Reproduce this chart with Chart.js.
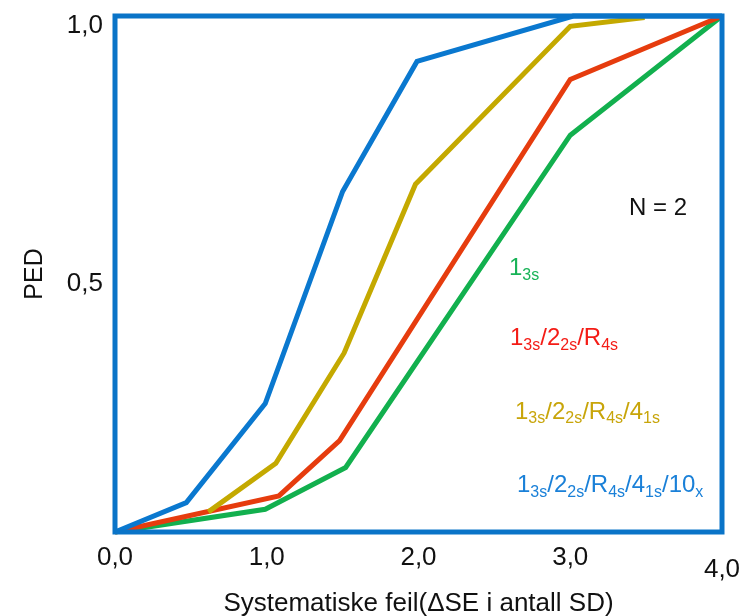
<!DOCTYPE html>
<html><head><meta charset="utf-8">
<script src="https://cdn.jsdelivr.net/npm/chart.js@4/dist/chart.umd.min.js"></script>
<style>html,body{margin:0;padding:0;background:#fff}#wrap{width:745px;height:616px}</style>
</head><body><div id="wrap"><canvas id="c" width="745" height="616"></canvas></div>
<script>
// ---- data ----
const xTickValues = [0, 1, 2, 3, 4];
const yTickValues = [0.5, 1.0];

const blueX   = [0, 0.47, 0.99, 1.50, 1.99, 3.02, 4.0];
const blueY   = [0, 0.057, 0.249, 0.660, 0.912, 1.0, 1.0];
const yellowX = [0.615, 1.06, 1.51, 1.98, 3.0, 3.49];
const yellowY = [0.039, 0.133, 0.347, 0.674, 0.980, 0.997];
const redX    = [0, 1.08, 1.48, 3.0, 4.0];
const redY    = [0, 0.070, 0.177, 0.877, 1.0];
const greenX  = [0, 0.99, 1.52, 3.0, 4.0];
const greenY  = [0, 0.044, 0.125, 0.769, 1.0];

const seriesNames = ['1₃ₛ/2₂ₛ/R₄ₛ/4₁ₛ/10ₓ', '1₃ₛ/2₂ₛ/R₄ₛ/4₁ₛ', '1₃ₛ/2₂ₛ/R₄ₛ', '1₃ₛ'];
const xTitle = 'Systematiske feil(ΔSE i antall SD)';
const yTitle = 'PED';

// annotation texts: [text, isSubscript]
const labelN      = [['N = 2', 0]];
const labelGreen  = [['1',0],['3s',1]];
const labelRed    = [['1',0],['3s',1],['/2',0],['2s',1],['/R',0],['4s',1]];
const labelYellow = [['1',0],['3s',1],['/2',0],['2s',1],['/R',0],['4s',1],['/4',0],['1s',1]];
const labelBlue   = [['1',0],['3s',1],['/2',0],['2s',1],['/R',0],['4s',1],['/4',0],['1s',1],['/10',0],['x',1]];

// ---- styling / layout ----
const FONT = "'Liberation Sans', Arial, sans-serif";
const C_BLUE = '#0a78cf', C_YEL = '#c4a900', C_RED = '#e63c0e', C_GRN = '#12b04e';
const annotations = [
  {parts: labelN,      color: '#111111', at: [3.387, 0.614]},
  {parts: labelGreen,  color: '#18b357', at: [2.596, 0.498]},
  {parts: labelRed,    color: '#f41c16', at: [2.603, 0.362]},
  {parts: labelYellow, color: '#c8a50a', at: [2.636, 0.219]},
  {parts: labelBlue,   color: '#1a80d8', at: [2.649, 0.0774]}
];

function pts(xs, ys) { return xs.map((x, i) => ({x: x, y: ys[i]})); }
function fmt(v) { return v.toFixed(1).replace('.', ','); }

const boxBorder = {
  id: 'boxBorder',
  afterDatasetsDraw(chart) {
    const {ctx, chartArea: a} = chart;
    ctx.save();
    ctx.strokeStyle = '#0a74c8';
    ctx.lineWidth = 5;
    ctx.strokeRect(a.left, a.top, a.right - a.left, a.bottom - a.top);
    ctx.restore();
  }
};

const richLabels = {
  id: 'richLabels',
  afterDraw(chart) {
    const ctx = chart.ctx;
    const xs = chart.scales.x, ys = chart.scales.y;
    ctx.save();
    ctx.textBaseline = 'alphabetic';
    ctx.textAlign = 'left';
    annotations.forEach(a => {
      let x = xs.getPixelForValue(a.at[0]);
      const y = ys.getPixelForValue(a.at[1]);
      ctx.fillStyle = a.color;
      a.parts.forEach(([t, sub]) => {
        ctx.font = (sub ? '16px ' : '24px ') + FONT;
        ctx.fillText(t, x, sub ? y + 4.5 : y);
        x += ctx.measureText(t).width;
      });
    });
    ctx.restore();
  }
};

const ds = (label, xs, ys, color) => ({
  label, data: pts(xs, ys), borderColor: color, backgroundColor: color,
  borderWidth: 5, pointRadius: 0, tension: 0, fill: false, clip: false,
  borderJoinStyle: 'miter'
});

new Chart(document.getElementById('c'), {
  type: 'line',
  data: {
    datasets: [
      ds(seriesNames[0], blueX, blueY, C_BLUE),
      ds(seriesNames[1], yellowX, yellowY, C_YEL),
      ds(seriesNames[2], redX, redY, C_RED),
      ds(seriesNames[3], greenX, greenY, C_GRN)
    ]
  },
  options: {
    responsive: false,
    devicePixelRatio: 1,
    animation: false,
    layout: {padding: {left: 0, right: 23, top: 16, bottom: 0}},
    plugins: {legend: {display: false}, tooltip: {enabled: false}},
    scales: {
      x: {
        type: 'linear', min: 0, max: 4,
        afterBuildTicks: s => { s.ticks = xTickValues.map(v => ({value: v})); },
        afterFit: s => { s.height = 84; s.paddingLeft = 0; s.paddingRight = 0; },
        grid: {display: false, drawTicks: false},
        border: {display: false},
        ticks: {
          color: '#111', padding: 10,
          maxRotation: 0, autoSkip: false,
          font: c => (c.index === 4 ? {family: FONT, size: 26, lineHeight: '18.4px'} : {family: FONT, size: 26}),
          callback: (v, i) => (i === 4 ? ['', fmt(v)] : fmt(v))
        },
        title: {display: true, text: xTitle, color: '#111', font: {family: FONT, size: 26, lineHeight: 0.9}, padding: 0}
      },
      y: {
        type: 'linear', min: 0, max: 1,
        afterBuildTicks: s => { s.ticks = yTickValues.map(v => ({value: v})); },
        afterFit: s => { s.width = 115; s.paddingTop = 0; s.paddingBottom = 0; },
        grid: {display: false, drawTicks: false},
        border: {display: false},
        ticks: {
          color: '#111', padding: 12,
          font: {family: FONT, size: 26, lineHeight: '19px'},
          callback: v => ['', fmt(v)]
        },
        title: {display: true, text: yTitle, color: '#111', font: {family: FONT, size: 25, lineHeight: 1.2}, padding: 20}
      }
    }
  },
  plugins: [boxBorder, richLabels]
});
</script>
</body></html>
